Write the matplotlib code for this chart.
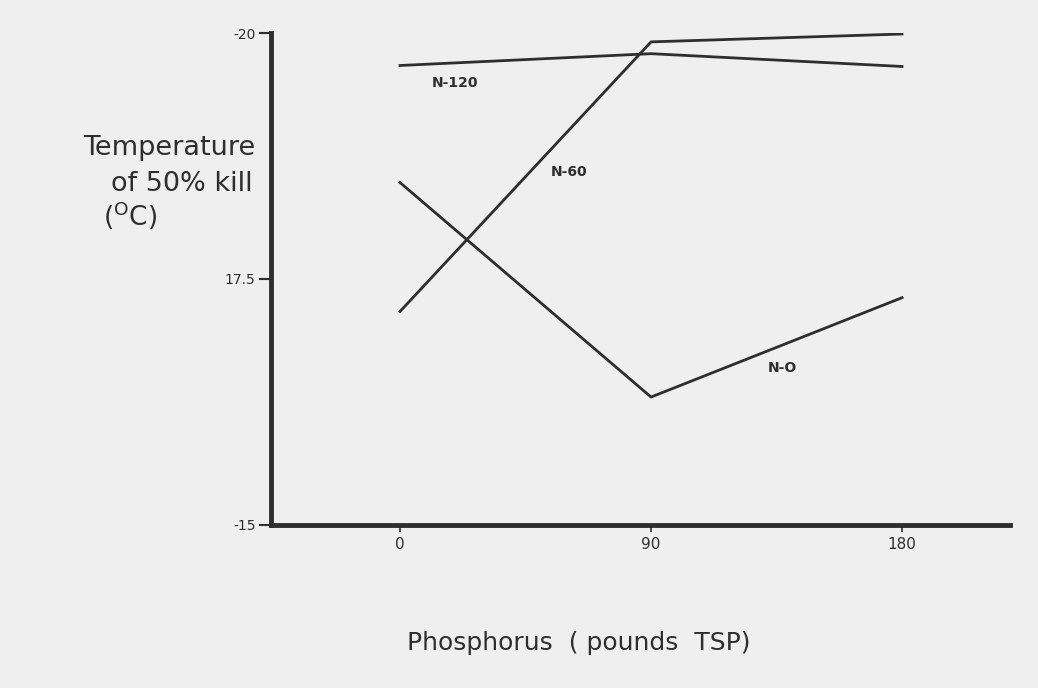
import matplotlib.pyplot as plt

# phosphorus rates (pounds TSP)
phosphorus = [0, 90, 180]
# temperature of 50% kill for each nitrogen level
n0 = [18.48, 16.30, 17.31]
n60 = [17.17, 19.91, 19.99]
n120 = [19.67, 19.79, 19.66]
series_names = ['N-O', 'N-60', 'N-120']
ytick_vals = [15, 17.5, 20]
ytick_labels = ['-15', '17.5', '-20']

ink = '#2e2e2e'
paper = '#efefef'

fig = plt.figure(figsize=(10.38, 6.88), dpi=100, facecolor=paper)
ax = fig.add_axes([0.261, 0.237, 0.712, 0.715], facecolor=paper)

ax.plot(phosphorus, n0, color=ink, lw=2.0)
ax.plot(phosphorus, n60, color=ink, lw=2.0)
ax.plot(phosphorus, n120, color=ink, lw=2.0)

# series labels written next to the lines
ax.text(137, 16.60, series_names[0], fontsize=10, color=ink, fontweight='bold', ha='center', va='center')
ax.text(60.6, 18.59, series_names[1], fontsize=10, color=ink, fontweight='bold', ha='center', va='center')
ax.text(19.7, 19.49, series_names[2], fontsize=10, color=ink, fontweight='bold', ha='center', va='center')

ax.set_xlim(-46.3, 218.7)
ax.set_ylim(15, 20)
ax.set_xticks(phosphorus)
ax.set_xticklabels([str(p) for p in phosphorus], fontsize=11, color=ink)
ax.set_yticks(ytick_vals)
ax.set_yticklabels(ytick_labels, fontsize=10, color=ink)
ax.tick_params(axis='y', direction='out', length=9, width=1.5, color=ink, pad=2)
ax.tick_params(axis='x', direction='out', length=5, width=1.2, color=ink, pad=4)

for side in ['top', 'right']:
    ax.spines[side].set_visible(False)
for side in ['left', 'bottom']:
    ax.spines[side].set_linewidth(3.5)
    ax.spines[side].set_color(ink)

# y axis title, three lines placed as in the original
fig.text(255 / 1038, 1 - 148 / 688, 'Temperature', fontsize=19.5, color=ink, ha='right', va='center')
fig.text(253 / 1038, 1 - 184 / 688, 'of 50% kill', fontsize=19.5, color=ink, ha='right', va='center')
fig.text(103 / 1038, 1 - 216 / 688, r'($^{\mathrm{O}}$C)', fontsize=19, color=ink, ha='left', va='center')

fig.text(407 / 1038, 1 - 643 / 688, 'Phosphorus  ( pounds  TSP)', fontsize=18, color=ink, ha='left', va='center')

plt.savefig('out.png', dpi=100, facecolor=paper)
